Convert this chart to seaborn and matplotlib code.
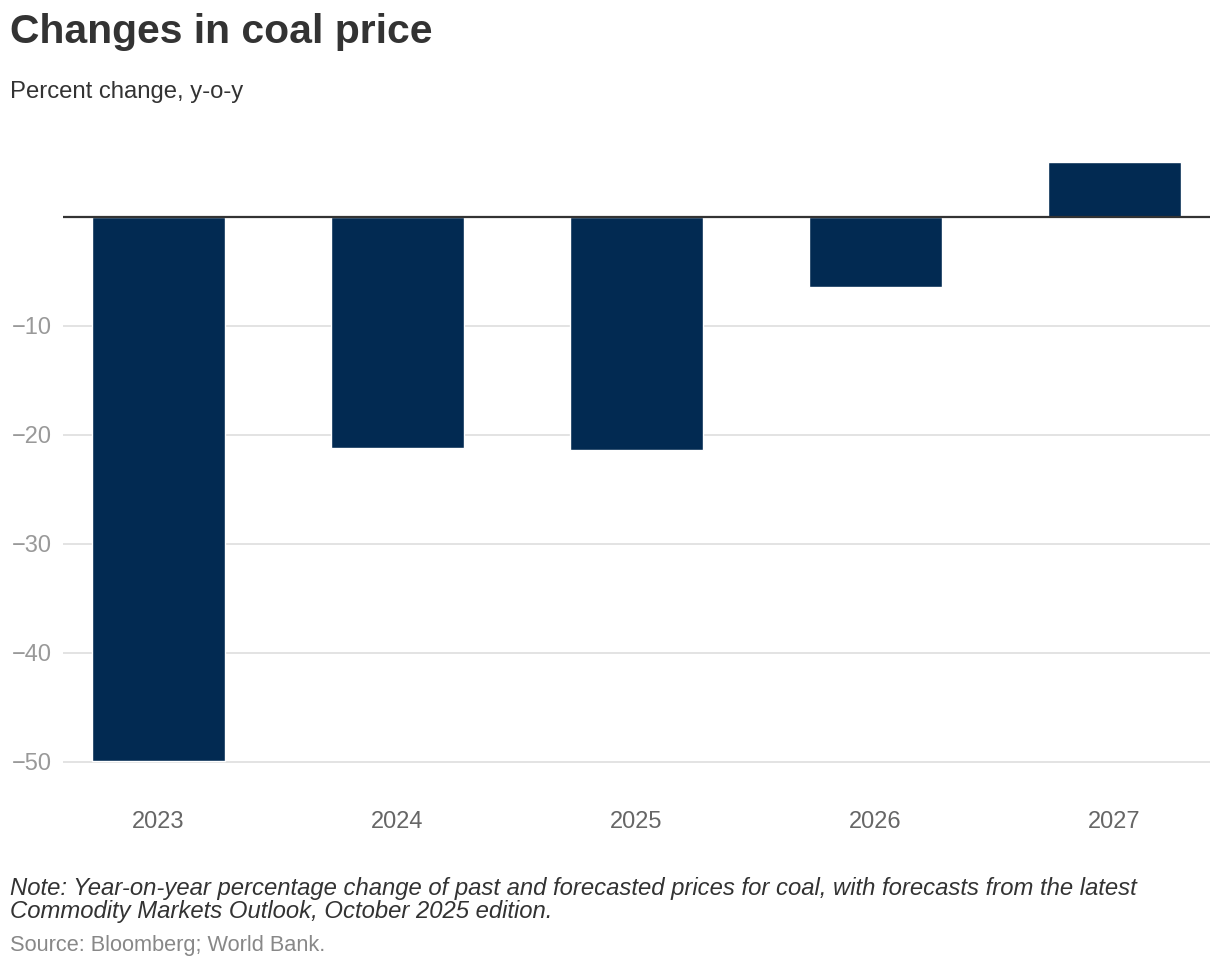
import pandas as pd
import numpy as np
import seaborn as sns
import matplotlib.pyplot as plt

# datos
years = ['2023', '2024', '2025', '2026', '2027']
change = [-49.9, -21.2, -21.4, -6.5, 5.0]

df = pd.DataFrame({'year': years, 'change': change})

sns.set_style('white')
plt.rcParams['font.family'] = ['Liberation Sans', 'DejaVu Sans']

fig = plt.figure(figsize=(12.2, 9.68), dpi=100)
ax = fig.add_axes([63/1220, 1 - 790/968, (1210 - 63)/1220, 640/968])

sns.barplot(data=df, x='year', y='change', color='#022a52', width=0.56,
            saturation=1, ax=ax, zorder=3)

ax.set_xlim(-0.4, 4.4)
ax.set_ylim(-52.6, 6.1)
ax.set_yticks([-50, -40, -30, -20, -10])
ax.yaxis.grid(True, color='#e3e3e3', linewidth=1.4, zorder=0)
ax.axhline(0, color='#333333', linewidth=1.6, zorder=4)
for s in ax.spines.values():
    s.set_visible(False)
ax.tick_params(axis='y', length=0, pad=8, labelsize=17, labelcolor='#999999')
ax.tick_params(axis='x', length=0, pad=15, labelsize=17, labelcolor='#666666')
ax.set_xlabel('')
ax.set_ylabel('')

fig.text(10/1220, 1 - 43/968, 'Changes in coal price', fontsize=29.4, fontweight='bold',
         color='#333333', ha='left', va='baseline')
fig.text(10/1220, 1 - 98/968, 'Percent change, y-o-y', fontsize=17.2,
         color='#333333', ha='left', va='baseline')
fig.text(10/1220, 1 - 895/968,
         'Note: Year-on-year percentage change of past and forecasted prices for coal, with forecasts from the latest',
         fontsize=17.2, style='italic', color='#333333', ha='left', va='baseline')
fig.text(10/1220, 1 - 918/968, 'Commodity Markets Outlook, October 2025 edition.',
         fontsize=17.2, style='italic', color='#333333', ha='left', va='baseline')
fig.text(10/1220, 1 - 951/968, 'Source: Bloomberg; World Bank.', fontsize=15.7,
         color='#888888', ha='left', va='baseline')

plt.savefig('out.png', dpi=100)
